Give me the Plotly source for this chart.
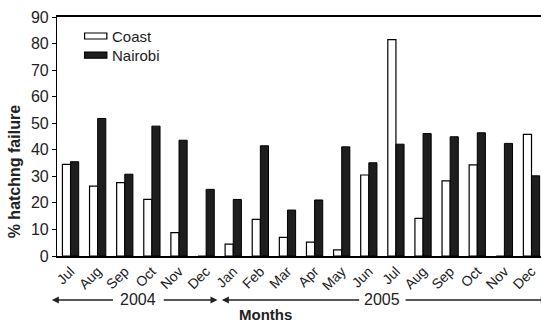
import plotly.graph_objects as go

# Monthly hatching failure (%) from Jul 2004 to Dec 2005
months = ["Jul", "Aug", "Sep", "Oct", "Nov", "Dec",
          "Jan", "Feb", "Mar", "Apr", "May", "Jun",
          "Jul", "Aug", "Sep", "Oct", "Nov", "Dec"]
coast = [34.5, 26.3, 27.6, 21.3, 8.8, 0,
         4.5, 13.8, 7.0, 5.2, 2.3, 30.5,
         81.5, 14.2, 28.3, 34.3, 0, 45.8]
nairobi = [35.5, 51.8, 30.8, 48.9, 43.6, 25.1,
           21.3, 41.5, 17.3, 21.1, 41.1, 35.1,
           42.1, 46.1, 44.9, 46.4, 42.4, 30.2]
y_ticks = [0, 10, 20, 30, 40, 50, 60, 70, 80, 90]

idx = list(range(len(months)))
FONT = "Liberation Sans, Arial, Helvetica, sans-serif"
INK = "#222"

series = [
    dict(name="Coast", values=coast, fill="white", edge=1.2),
    dict(name="Nairobi", values=nairobi, fill="#1e1e1e", edge=1.0),
]

fig = go.Figure()
for s in series:
    fig.add_trace(go.Bar(x=idx, y=s["values"], name=s["name"], showlegend=False,
                         marker=dict(color=s["fill"], line=dict(color="black", width=s["edge"]))))

shapes = []
annotations = []

# legend key: wide swatches with labels, top-left of the plot
key_top = [0.933, 0.853]
for s, yt in zip(series, key_top):
    shapes.append(dict(type="rect", xref="paper", yref="paper",
                       x0=0.057, x1=0.103, y0=yt - 0.025, y1=yt,
                       fillcolor=s["fill"], line=dict(color="black", width=1.2)))
    annotations.append(dict(text=s["name"], x=0.110, y=yt - 0.0125, xref="paper", yref="paper",
                            xanchor="left", yanchor="middle", showarrow=False,
                            font=dict(family=FONT, size=15, color=INK)))

# year spans under the month labels
years = [("2004", -0.69, 1.62, 3.38, 5.42, 2.5),
         ("2005", 5.58, 10.7, 12.3, 17.6, 11.5)]
yr_y = -0.184
for label, left_tip, left_tail, right_tail, right_tip, mid in years:
    annotations.append(dict(text=label, x=mid, y=yr_y, xref="x", yref="paper",
                            xanchor="center", yanchor="middle", showarrow=False,
                            font=dict(family=FONT, size=16, color=INK)))
    for tip, tail in ((left_tip, left_tail), (right_tip, right_tail)):
        annotations.append(dict(text="", x=tip, y=yr_y, xref="x", yref="paper",
                                ax=tail, ay=0, axref="x", ayref="pixel",
                                showarrow=True, arrowhead=2, arrowsize=1,
                                arrowwidth=1.4, arrowcolor=INK))

annotations.append(dict(text="<b>Months</b>", x=0.43, y=-0.245, xref="paper", yref="paper",
                        showarrow=False, xanchor="center", yanchor="middle",
                        font=dict(family=FONT, size=15, color=INK)))
annotations.append(dict(text="<b>% hatchng failure</b>", x=-0.089, y=0.354,
                        xref="paper", yref="paper", showarrow=False, textangle=-90,
                        xanchor="center", yanchor="middle",
                        font=dict(family=FONT, size=16, color=INK)))

fig.update_layout(
    width=541, height=323,
    margin=dict(l=57, r=0, t=17, b=67),
    paper_bgcolor="white", plot_bgcolor="white",
    barmode="group", bargap=0.4, bargroupgap=0,
    font=dict(family=FONT, color=INK),
    shapes=shapes,
    annotations=annotations,
)
fig.update_xaxes(
    tickmode="array", tickvals=idx, ticktext=months, tickangle=-45,
    tickfont=dict(size=14, color=INK),
    range=[-0.5, 17.35], showline=True, linecolor="black", linewidth=1.5,
    mirror=True, ticks="inside", ticklen=4, tickcolor="black",
    tickson="boundaries", showgrid=False, zeroline=False,
)
fig.update_yaxes(
    range=[0, 90], tickvals=y_ticks, tickfont=dict(size=16, color=INK),
    showline=True, linecolor="black", linewidth=1.2, ticks="outside",
    ticklen=4, tickcolor="black", showgrid=False, zeroline=False,
)

fig.write_html("out.html")
